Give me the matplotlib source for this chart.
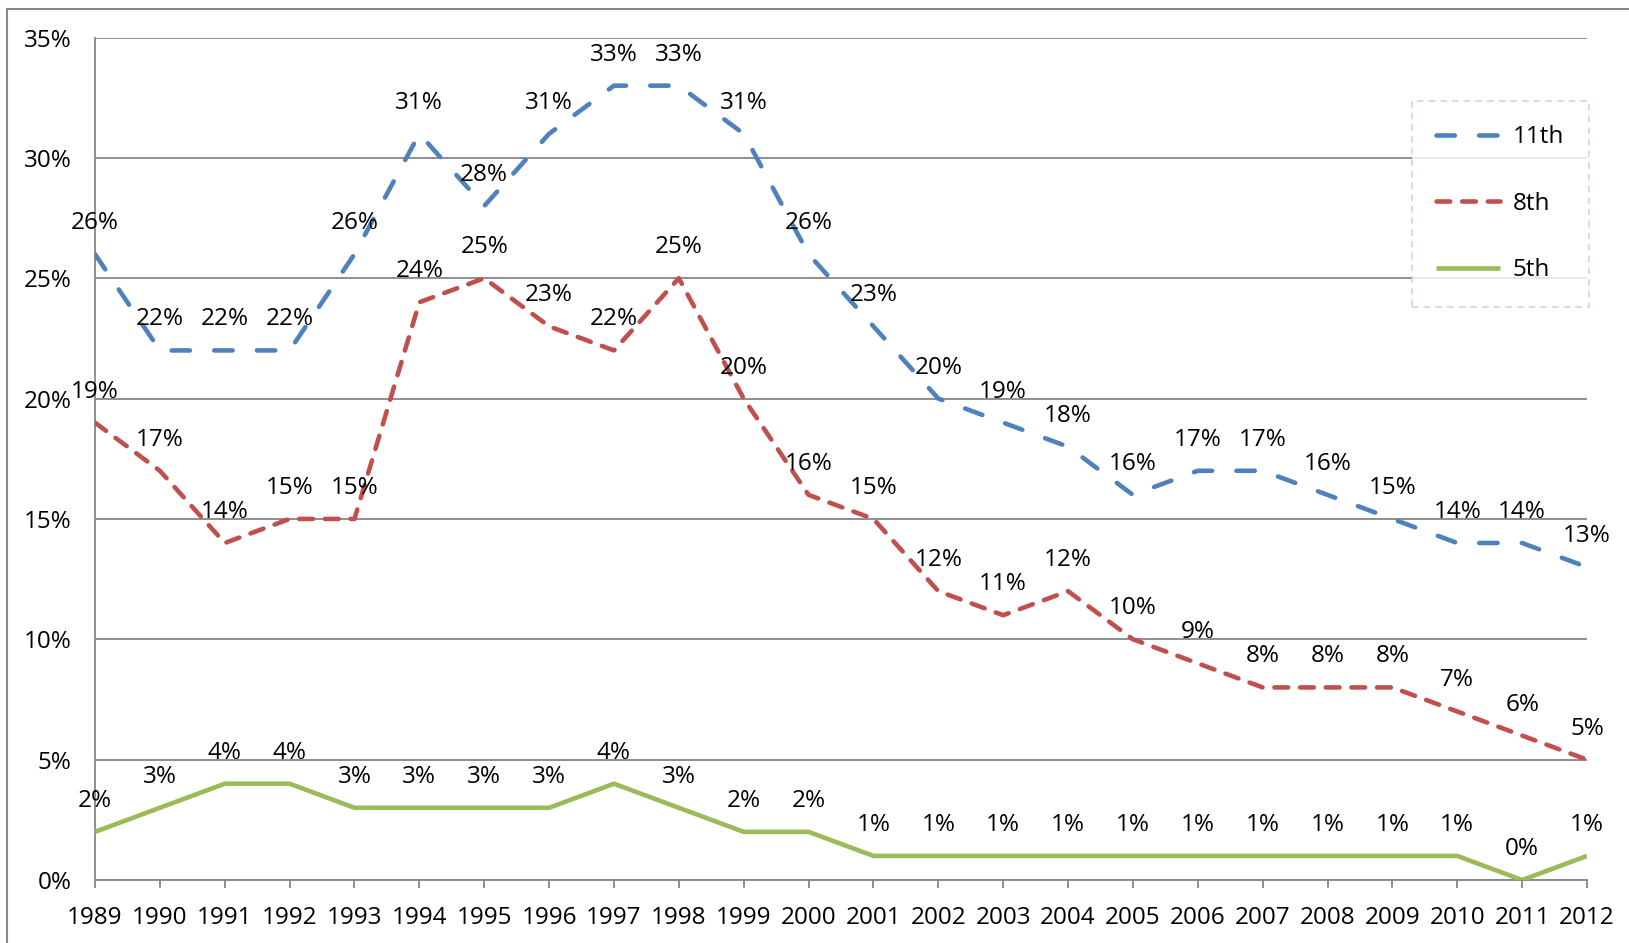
import matplotlib
matplotlib.use("Agg")
import matplotlib.pyplot as plt
from matplotlib.lines import Line2D
from matplotlib.ticker import FuncFormatter, MultipleLocator

years = list(range(1989, 2013))
grade11 = [26, 22, 22, 22, 26, 31, 28, 31, 33, 33, 31, 26, 23, 20, 19, 18, 16, 17, 17, 16, 15, 14, 14, 13]
grade8 = [19, 17, 14, 15, 15, 24, 25, 23, 22, 25, 20, 16, 15, 12, 11, 12, 10, 9, 8, 8, 8, 7, 6, 5]
grade5 = [2, 3, 4, 4, 3, 3, 3, 3, 4, 3, 2, 2, 1, 1, 1, 1, 1, 1, 1, 1, 1, 1, 0, 1]
series_names = ["11th", "8th", "5th"]

plt.rcParams['font.family'] = ['Open Sans', 'DejaVu Sans']
FS = 17.5

W, H = 1629, 943
fig = plt.figure(figsize=(W / 100, H / 100), dpi=100)
ax = fig.add_axes([95 / W, 1 - 880 / H, (1587 - 95) / W, (880 - 37.5) / H])

blue = "#4F81BD"
red = "#C0504D"
green = "#9BBB59"
lw = 3.3

x = list(range(len(years)))
l11, = ax.plot(x, grade11, color=blue, lw=lw, dashes=(4.0, 5.3), dash_capstyle='round',
               solid_joinstyle='round', dash_joinstyle='round', zorder=3)
l8, = ax.plot(x, grade8, color=red, lw=lw, dashes=(3.0, 2.6), dash_capstyle='round',
              dash_joinstyle='round', zorder=3)
l5, = ax.plot(x, grade5, color=green, lw=lw, solid_capstyle='butt', solid_joinstyle='round', zorder=3)

for vals in (grade11, grade8, grade5):
    for xi, v in zip(x, vals):
        ax.annotate(f"{v}%", (xi, v), xytext=(0, 31), textcoords='offset pixels',
                    ha='center', va='center', fontsize=FS, color='black', zorder=4)

ax.set_xlim(0, len(years) - 1)
ax.set_ylim(0, 35)
ax.yaxis.set_major_locator(MultipleLocator(5))
ax.yaxis.set_major_formatter(FuncFormatter(lambda v, p: f"{int(round(v))}%"))
ax.set_xticks(x)
ax.set_xticklabels([str(y) for y in years])

ax.grid(axis='y', color='#868686', lw=1.3)
ax.set_axisbelow(True)
for s in ['top', 'right']:
    ax.spines[s].set_visible(False)
for s in ['left', 'bottom']:
    ax.spines[s].set_color('#868686')
    ax.spines[s].set_linewidth(1.3)

ax.tick_params(axis='y', length=0, pad=17, labelsize=FS)
ax.tick_params(axis='x', direction='out', length=6, width=1.3, color='#868686',
               pad=13, labelsize=FS)

leg = ax.legend([l11, l8, l5], series_names, loc='upper left',
                bbox_to_anchor=((1412 - 95) / (1587 - 95), 1 - (101 - 37.5) / (880 - 37.5)),
                fontsize=FS, frameon=True, handlelength=2.6, labelspacing=1.75,
                borderpad=1.0, handletextpad=0.55, borderaxespad=0, fancybox=False)
leg._legend_box.sep = 0
fr = leg.get_frame()
fr.set_edgecolor('#B9CDE5')
fr.set_linestyle((0, (4, 3)))
fr.set_linewidth(1.2)
fr.set_facecolor('white')
# shift legend content slightly right inside its frame
leg._legend_box.pad = leg._legend_box.pad

# outer chart frame (left and top edges)
fig.add_artist(Line2D([7 / W, 7 / W], [0, 1 - 9 / H], transform=fig.transFigure,
                      color='#868686', lw=1.5))
fig.add_artist(Line2D([7 / W, 1], [1 - 9 / H, 1 - 9 / H], transform=fig.transFigure,
                      color='#868686', lw=1.5))

fig.savefig("out.png", dpi=100)
